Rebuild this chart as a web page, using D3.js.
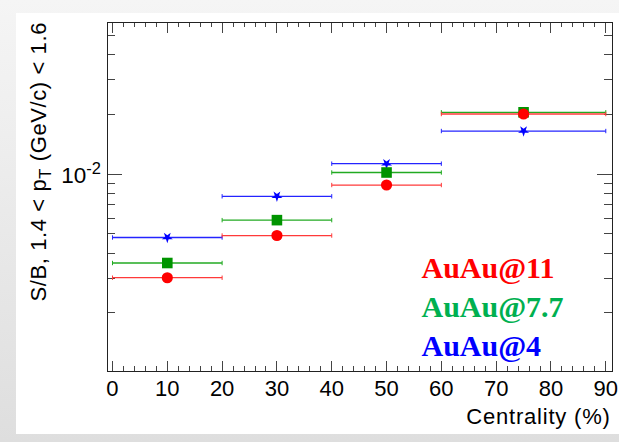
<!DOCTYPE html>
<html>
<head>
<meta charset="utf-8">
<script src="https://cdn.jsdelivr.net/npm/d3@7"></script>
<style>
body { margin: 0; }
svg { display: block; }
</style>
</head>
<body>
<div class="chart"></div>
<script>
var w = 619;
var h = 442;

// centrality bins (%)
var binLow = [0, 20, 40, 60];
var binHigh = [20, 40, 60, 90];
var binCenter = [10, 30, 50, 75];

// S/B, one array per energy
var sbAuAu11 = [0.00301, 0.00491, 0.00882, 0.0201];
var sbAuAu77 = [0.00357, 0.00587, 0.0102, 0.0205];
var sbAuAu4 = [0.0048, 0.00774, 0.0113, 0.0165];

var seriesNames = ["AuAu@11", "AuAu@7.7", "AuAu@4"];
var xTickValues = [0, 10, 20, 30, 40, 50, 60, 70, 80, 90];
var xDomain = [-0.93, 91.17];
var yDomain = [0.001012, 0.05844];

var series = [ // drawing order: blue under green under red
    {name: seriesNames[2], values: sbAuAu4, line: "#2424ff", marker: "#0000ff", text: "#0000ff", shape: "star"},
    {name: seriesNames[1], values: sbAuAu77, line: "#22aa22", marker: "#009400", text: "#00b050", shape: "square"},
    {name: seriesNames[0], values: sbAuAu11, line: "#ff3a3a", marker: "#ff0000", text: "#ff0000", shape: "circle"}
];

var frame = {left: 107.4, right: 612.2, top: 22, bottom: 371.7};

var svg = d3.select(".chart").append("svg")
    .attr("width", w)
    .attr("height", h);

// grey page behind the white pad
var defs = svg.append("defs");
var bg = defs.append("linearGradient").attr("id", "bg").attr("x1", 0).attr("y1", 0).attr("x2", 0).attr("y2", 1);
bg.append("stop").attr("offset", 0).attr("stop-color", "#f5f5f5");
bg.append("stop").attr("offset", 1).attr("stop-color", "#dedede");
svg.append("rect").attr("width", w).attr("height", h).attr("fill", "url(#bg)");
svg.append("rect").attr("x", 16).attr("y", 13).attr("width", w - 16).attr("height", 421).attr("fill", "#fff");

var x = d3.scaleLinear().domain(xDomain).range([frame.left, frame.right]);
var y = d3.scaleLog().domain(yDomain).range([frame.bottom, frame.top]);

var axes = svg.append("g").attr("stroke", "#444").attr("stroke-width", 1).attr("shape-rendering", "crispEdges");

// x ticks, bottom and top: major every 10, minor every 2
var xMinor = d3.range(0, 91, 2).filter(function(v){ return v % 10 != 0; });
xTickValues.forEach(function(v){
    axes.append("line").attr("x1", x(v)).attr("x2", x(v)).attr("y1", frame.bottom).attr("y2", frame.bottom - 11);
    axes.append("line").attr("x1", x(v)).attr("x2", x(v)).attr("y1", frame.top).attr("y2", frame.top + 10.5);
});
xMinor.forEach(function(v){
    axes.append("line").attr("x1", x(v)).attr("x2", x(v)).attr("y1", frame.bottom).attr("y2", frame.bottom - 5.5);
    axes.append("line").attr("x1", x(v)).attr("x2", x(v)).attr("y1", frame.top).attr("y2", frame.top + 5);
});

// y ticks (log): k * 10^n inside the domain
var yMinor = [];
[-3, -2].forEach(function(n){
    for (var k = 1; k <= 9; k++) {
        var v = k * Math.pow(10, n);
        if (v > yDomain[0] && v < yDomain[1]) yMinor.push(v);
    }
});
yMinor.forEach(function(v){
    var len = (Math.abs(v - 0.01) < 1e-9) ? 15 : 7.8;
    axes.append("line").attr("x1", frame.left).attr("x2", frame.left + len).attr("y1", y(v)).attr("y2", y(v));
    axes.append("line").attr("x1", frame.right).attr("x2", frame.right - len).attr("y1", y(v)).attr("y2", y(v));
});

axes.append("rect")
    .attr("x", frame.left).attr("y", frame.top)
    .attr("width", frame.right - frame.left).attr("height", frame.bottom - frame.top)
    .attr("fill", "none").attr("stroke", "#222");

var labelFont = "'Liberation Sans', Arial, Helvetica, sans-serif";

// x tick labels
svg.append("g").selectAll("text")
    .data(xTickValues)
    .enter().append("text")
    .attr("x", function(d){ return x(d); })
    .attr("y", 395.5)
    .attr("text-anchor", "middle")
    .attr("font-family", labelFont)
    .attr("font-size", 22)
    .attr("fill", "#000")
    .text(function(d){ return d; });

// y label 10^-2
var yl = svg.append("text")
    .attr("x", 101).attr("y", y(0.01) + 9)
    .attr("text-anchor", "end")
    .attr("font-family", labelFont)
    .attr("font-size", 22.5);
yl.append("tspan").text("10");
yl.append("tspan").attr("dy", -9).attr("font-size", 16.5).text("-2");

// axis titles
svg.append("text")
    .attr("x", frame.right - 1.5).attr("y", 423.5)
    .attr("text-anchor", "end")
    .attr("font-family", labelFont)
    .attr("font-size", 22)
    .attr("letter-spacing", 0.8)
    .text("Centrality (%)");

var yt = svg.append("text")
    .attr("transform", "translate(46," + frame.top + ") rotate(-90)")
    .attr("text-anchor", "end")
    .attr("font-family", labelFont)
    .attr("font-size", 22)
    .attr("letter-spacing", 0.6);
yt.append("tspan").text("S/B, 1.4 < p");
yt.append("tspan").attr("dy", 5).attr("font-size", 16.5).text("T");
yt.append("tspan").attr("dy", -5).text(" (GeV/c) < 1.6");

// error bars and markers
var plot = svg.append("g");
var cap = 2.2;
series.forEach(function(s){
    var g = plot.append("g");
    var idx = d3.range(s.values.length);
    g.selectAll("line.bar").data(idx).enter().append("line")
        .attr("x1", function(i){ return x(binLow[i]); })
        .attr("x2", function(i){ return x(binHigh[i]); })
        .attr("y1", function(i){ return y(s.values[i]); })
        .attr("y2", function(i){ return y(s.values[i]); })
        .attr("stroke", s.line).attr("stroke-width", 1.3);
    g.selectAll("line.capl").data(idx).enter().append("line")
        .attr("x1", function(i){ return x(binLow[i]); })
        .attr("x2", function(i){ return x(binLow[i]); })
        .attr("y1", function(i){ return y(s.values[i]) - cap; })
        .attr("y2", function(i){ return y(s.values[i]) + cap; })
        .attr("stroke", s.line).attr("stroke-width", 1);
    g.selectAll("line.capr").data(idx).enter().append("line")
        .attr("x1", function(i){ return x(binHigh[i]); })
        .attr("x2", function(i){ return x(binHigh[i]); })
        .attr("y1", function(i){ return y(s.values[i]) - cap; })
        .attr("y2", function(i){ return y(s.values[i]) + cap; })
        .attr("stroke", s.line).attr("stroke-width", 1);

    var sym = s.shape == "circle" ? d3.symbol().type(d3.symbolCircle).size(98)
            : s.shape == "square" ? d3.symbol().type(d3.symbolSquare).size(112)
            : d3.symbol().type(d3.symbolStar).size(38);
    g.selectAll("path").data(idx).enter().append("path")
        .attr("d", sym)
        .attr("transform", function(i){
            return "translate(" + x(binCenter[i]) + "," + y(s.values[i]) + ")" + (s.shape == "star" ? " rotate(180)" : "");
        })
        .attr("fill", s.marker);
});

// legend text
var legendY = [278.3, 317.3, 355.7];
var legendOrder = [series[2], series[1], series[0]];
svg.append("g").selectAll("text")
    .data(legendOrder)
    .enter().append("text")
    .attr("x", 421.5)
    .attr("y", function(d, i){ return legendY[i]; })
    .attr("font-family", "'Liberation Serif', 'Times New Roman', serif")
    .attr("font-weight", "bold")
    .attr("font-size", 30)
    .attr("fill", function(d){ return d.text; })
    .text(function(d){ return d.name; });
</script>
</body>
</html>
